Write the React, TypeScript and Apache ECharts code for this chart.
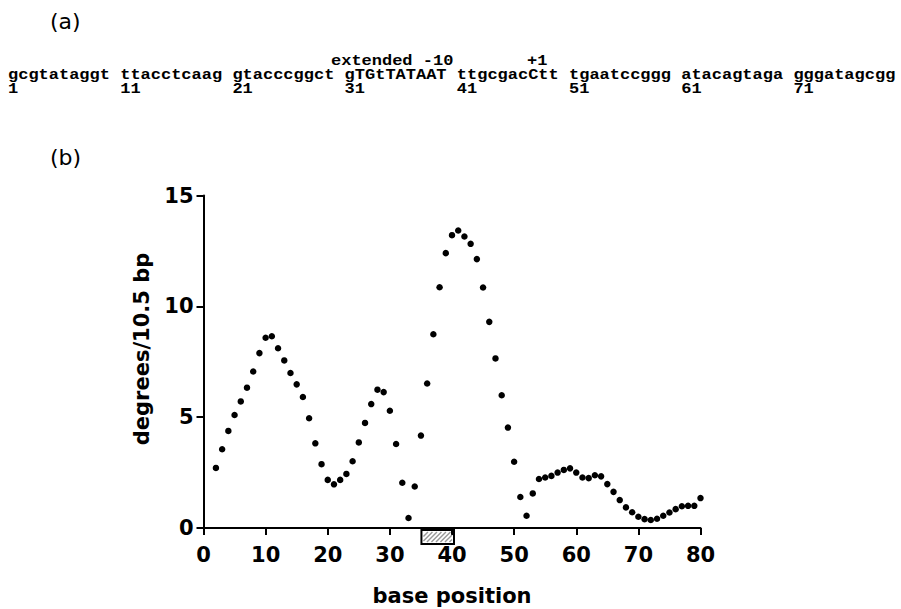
import React, { useEffect, useRef } from "react";
import * as echarts from "echarts";

// ---- data ----
const basePositions: number[] = [
  2, 3, 4, 5, 6, 7, 8, 9, 10, 11, 12, 13, 14, 15, 16, 17, 18, 19, 20,
  21, 22, 23, 24, 25, 26, 27, 28, 29, 30, 31, 32, 33, 34, 35, 36, 37, 38, 39, 40,
  41, 42, 43, 44, 45, 46, 47, 48, 49, 50, 51, 52, 53, 54, 55, 56, 57, 58, 59, 60,
  61, 62, 63, 64, 65, 66, 67, 68, 69, 70, 71, 72, 73, 74, 75, 76, 77, 78, 79, 80,
];
const bendValues: number[] = [
  2.71, 3.55, 4.38, 5.1, 5.71, 6.33, 7.06, 7.89, 8.58, 8.65, 8.11, 7.56, 6.99, 6.48, 5.91, 4.95, 3.82, 2.88, 2.17,
  1.97, 2.17, 2.44, 3.01, 3.86, 4.74, 5.59, 6.24, 6.13, 5.29, 3.79, 2.04, 0.45, 1.87, 4.17, 6.52, 8.74, 10.86, 12.4, 13.21,
  13.42, 13.15, 12.82, 12.13, 10.85, 9.3, 7.65, 5.99, 4.53, 2.99, 1.4, 0.55, 1.56, 2.21, 2.28, 2.35, 2.5, 2.62, 2.69, 2.5,
  2.28, 2.25, 2.38, 2.33, 1.98, 1.63, 1.26, 0.93, 0.71, 0.51, 0.4, 0.36, 0.42, 0.55, 0.7, 0.85, 0.98, 1.0, 1.0, 1.35,
];
const minus10Box: number[] = [35, 40];
const xMin = 0, xMax = 80, xStep = 10;
const yMin = 0, yMax = 15, yStep = 5;

const seqBlocks: string[] = [
  "gcgtataggt", "ttacctcaag", "gtacccggct", "gTGtTATAAT",
  "ttgcgacCtt", "tgaatccggg", "atacagtaga", "gggatagcgg",
];
const seqNumbers: string[] = ["1", "11", "21", "31", "41", "51", "61", "71"];
const annoLabels: { text: string; x: number }[] = [
  { text: "extended -10", x: 331 },
  { text: "+1", x: 527 },
];

// layout of the sequence panel (pixels)
const SEQ_X0 = 8;
const PITCH = 10.2;
const MONO_SIZE = 14;
const MONO_SCALE = PITCH / (MONO_SIZE * 0.6);

export default function App() {
  const ref = useRef<HTMLDivElement>(null);

  useEffect(() => {
    if (!ref.current) return;
    const chart = echarts.init(ref.current, undefined, { renderer: "svg" });

    const monoStyle = (text: string) => ({
      text,
      fill: "#000",
      fontFamily: "Liberation Mono",
      fontWeight: "bold",
      fontSize: MONO_SIZE,
      textAlign: "left",
      textVerticalAlign: "middle",
    });

    const graphics: any[] = [];
    graphics.push({
      type: "text", x: 50, y: 21,
      style: { text: "(a)", fill: "#000", fontFamily: "DejaVu Sans", fontSize: 22, textAlign: "left", textVerticalAlign: "middle" },
    });
    graphics.push({
      type: "text", x: 50, y: 157,
      style: { text: "(b)", fill: "#000", fontFamily: "DejaVu Sans", fontSize: 22, textAlign: "left", textVerticalAlign: "middle" },
    });
    annoLabels.forEach((a) => {
      graphics.push({ type: "text", x: a.x, y: 61, scaleX: MONO_SCALE, style: monoStyle(a.text) });
    });
    seqBlocks.forEach((b, i) => {
      graphics.push({ type: "text", x: SEQ_X0 + i * 11 * PITCH, y: 75, scaleX: MONO_SCALE, style: monoStyle(b) });
    });
    seqNumbers.forEach((n, i) => {
      graphics.push({ type: "text", x: SEQ_X0 + i * 11 * PITCH, y: 89, scaleX: MONO_SCALE, style: monoStyle(n) });
    });
    graphics.push({
      type: "text", x: 142, y: 349, rotation: Math.PI / 2,
      style: { text: "degrees/10.5 bp", fill: "#000", fontFamily: "DejaVu Sans", fontWeight: "bold", fontSize: 21, textAlign: "center", textVerticalAlign: "middle" },
    });
    graphics.push({
      type: "text", x: 452, y: 596,
      style: { text: "base position", fill: "#000", fontFamily: "DejaVu Sans", fontWeight: "bold", fontSize: 21, textAlign: "center", textVerticalAlign: "middle" },
    });

    const axisCommon = {
      type: "value" as const,
      axisLine: { show: true, onZero: false, lineStyle: { color: "#000", width: 2 } },
      axisTick: { show: true, length: 7, lineStyle: { color: "#000", width: 2 } },
      splitLine: { show: false },
      axisLabel: { color: "#000", fontFamily: "DejaVu Sans", fontWeight: "bold", fontSize: 21 },
    };

    chart.setOption({
      animation: false,
      backgroundColor: "#fff",
      grid: { left: 203.5, right: 200.5, top: 195.5, bottom: 81 },
      xAxis: { ...axisCommon, min: xMin, max: xMax, interval: xStep, axisLabel: { ...axisCommon.axisLabel, margin: 16 } },
      yAxis: { ...axisCommon, min: yMin, max: yMax, interval: yStep, axisLabel: { ...axisCommon.axisLabel, margin: 10 } },
      series: [
        {
          type: "scatter",
          data: basePositions.map((p, i) => [p, bendValues[i]]),
          symbol: "circle",
          symbolSize: 6.5,
          itemStyle: { color: "#000", opacity: 1 },
          clip: false,
        },
        {
          type: "custom",
          data: [minus10Box],
          clip: false,
          silent: true,
          z: 5,
          renderItem: (params: any, api: any) => {
            const a = api.coord([api.value(0), 0]);
            const b = api.coord([api.value(1), 0]);
            const x0 = a[0] + 0.5, x1 = b[0] + 2, y0 = a[1] + 2, h = 14;
            const children: any[] = [];
            const ix0 = x0 + 2, ix1 = x1 - 2, iy0 = y0 + 2, ih = h - 4;
            for (let k = -ih; k < ix1 - ix0; k += 4.5) {
              let sx = ix0 + k, sy = iy0 + ih, ex = ix0 + k + ih, ey = iy0;
              if (sx < ix0) { sy -= ix0 - sx; sx = ix0; }
              if (ex > ix1) { ey += ex - ix1; ex = ix1; }
              if (ex <= sx) continue;
              children.push({ type: "line", shape: { x1: sx, y1: sy, x2: ex, y2: ey }, style: { stroke: "#999", lineWidth: 1.4 } });
            }
            children.push({ type: "rect", shape: { x: x0, y: y0, width: x1 - x0, height: h }, style: { fill: "none", stroke: "#000", lineWidth: 2 } });
            return { type: "group", children };
          },
        },
      ],
      graphic: graphics,
    });

    return () => chart.dispose();
  }, []);

  return <div ref={ref} style={{ position: "fixed", left: 0, top: 0, width: 901, height: 609, background: "#fff" }} />;
}
